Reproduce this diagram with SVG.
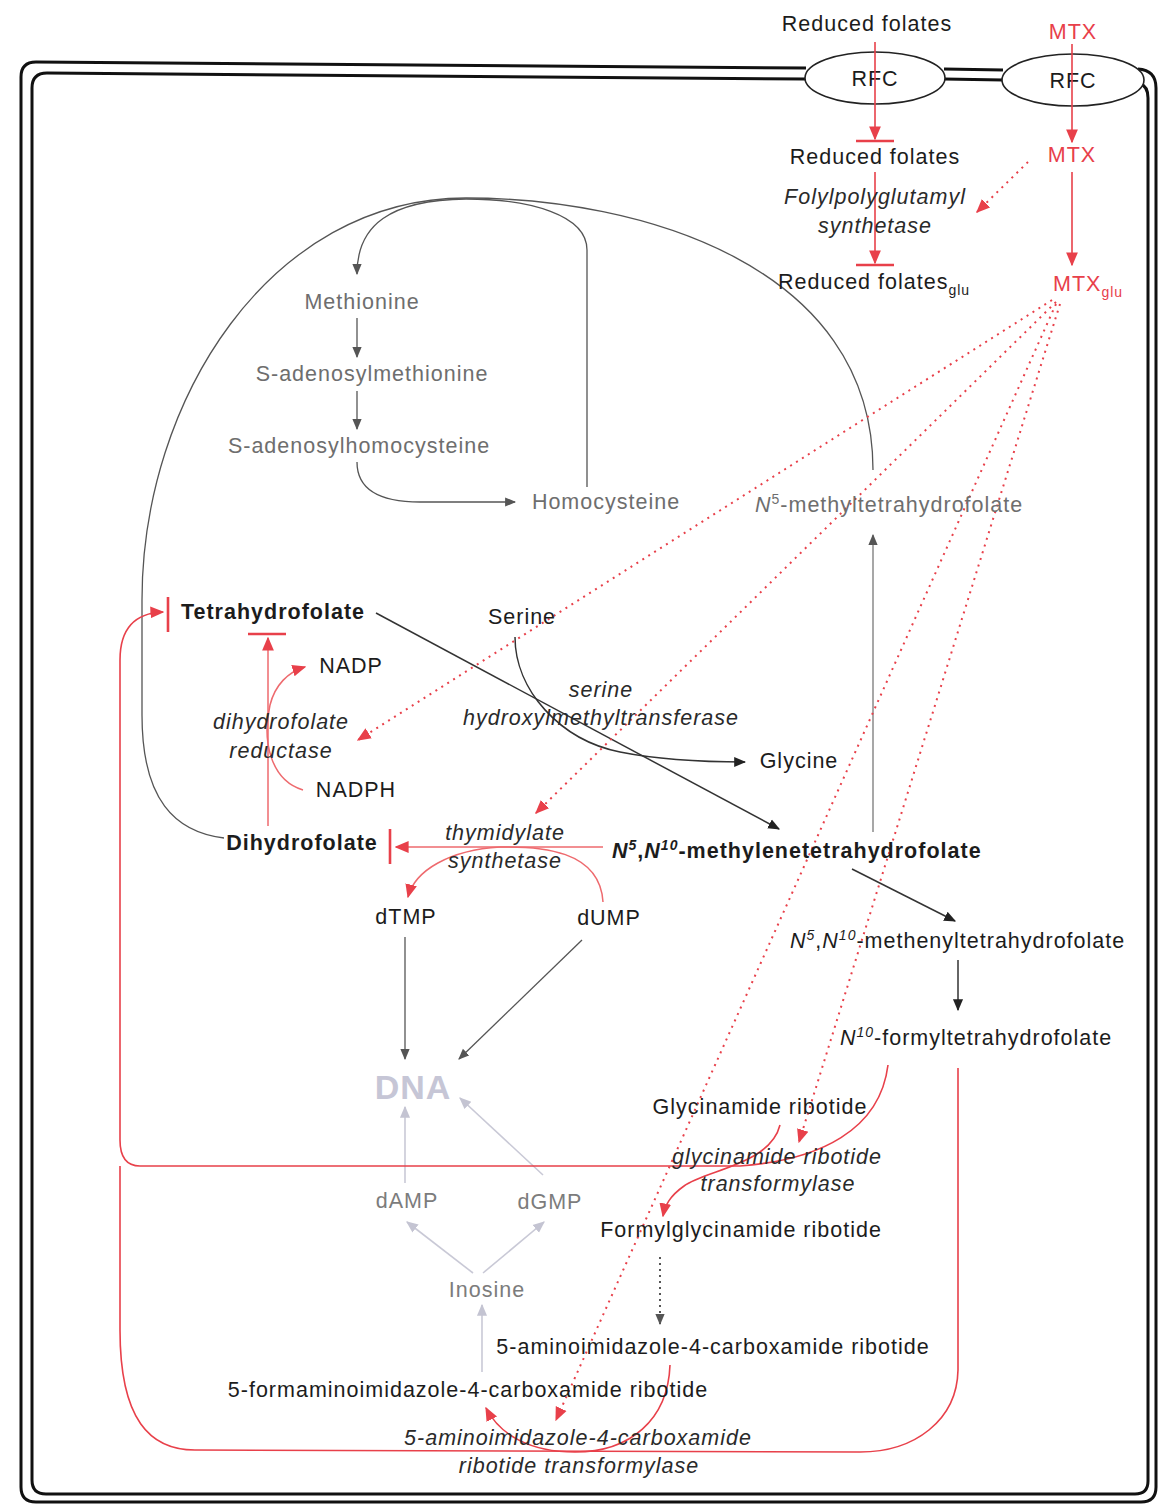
<svg xmlns="http://www.w3.org/2000/svg" width="1161" height="1506" viewBox="0 0 1161 1506">
<style>
text{font-family:"Liberation Sans",Arial,Helvetica,sans-serif;font-size:21.5px;letter-spacing:1px;fill:#1c1c1c}
.b{font-weight:bold}
.i{font-style:italic;fill:#2a2a2a}
.g{fill:#6e6e6e}
.lg{fill:#7c7c7c}
.red{fill:#e8404a}
.dna{font-size:34px;font-weight:bold;fill:#c6c6d6;letter-spacing:1px}
.mem{fill:none;stroke:#111;stroke-width:3}
.k{fill:none;stroke:#333;stroke-width:1.5}
.gr{fill:none;stroke:#555;stroke-width:1.3}
.gl{fill:none;stroke:#8a8a8a;stroke-width:1.5}
.lt{fill:none;stroke:#c9c9d6;stroke-width:1.6}
.r{fill:none;stroke:#e8404a;stroke-width:1.6}
.rp{fill:none;stroke:#ee6a6e;stroke-width:1.5}
.rd{fill:none;stroke:#e8404a;stroke-width:2;stroke-dasharray:2 5}
.bar{fill:none;stroke:#e8404a;stroke-width:2.6}
.dd{fill:none;stroke:#444;stroke-width:1.8;stroke-dasharray:2 4}
</style>
<defs>
<marker id="ak" viewBox="0 0 10 10" refX="9" refY="5" markerWidth="12" markerHeight="12" markerUnits="userSpaceOnUse" orient="auto"><path d="M0,0.8 L10,5 L0,9.2 z" fill="#222"/></marker>
<marker id="ag" viewBox="0 0 10 10" refX="9" refY="5" markerWidth="11" markerHeight="11" markerUnits="userSpaceOnUse" orient="auto"><path d="M0,0.8 L10,5 L0,9.2 z" fill="#555"/></marker>
<marker id="al" viewBox="0 0 10 10" refX="9" refY="5" markerWidth="12" markerHeight="12" markerUnits="userSpaceOnUse" orient="auto"><path d="M0,0.8 L10,5 L0,9.2 z" fill="#c4c4d2"/></marker>
<marker id="ar" viewBox="0 0 10 10" refX="9" refY="5" markerWidth="14" markerHeight="14" markerUnits="userSpaceOnUse" orient="auto"><path d="M0,0.8 L10,5 L0,9.2 z" fill="#e8404a"/></marker>
</defs>
<rect width="1161" height="1506" fill="#ffffff"/>

<g id="membrane">
<path class="mem" d="M806 68 L36 62 Q21 62 21 77 L21 1487 Q21 1502 36 1502 L1141 1502 Q1156 1502 1156 1487 L1156 88 Q1156 70 1138 69"/>
<path class="mem" d="M806 79 L47 73 Q32 73 32 88 L32 1480 Q32 1494 46 1494 L1135 1494 Q1148 1494 1148 1481 L1148 98 Q1148 86 1140 84"/>
<path class="mem" d="M944 69 L1003 70 M944 79 L1003 80"/>
</g>
<g id="rfc1"><ellipse cx="875" cy="78" rx="70" ry="26" fill="#fff" stroke="#222" stroke-width="1.6"/><text x="875" y="86" text-anchor="middle">RFC</text></g>
<g id="rfc2"><ellipse cx="1073" cy="80" rx="71" ry="26" fill="#fff" stroke="#222" stroke-width="1.6"/><text x="1073" y="88" text-anchor="middle">RFC</text></g>

<g id="connectors">
<!-- methionine cycle -->
<path class="gr" d="M224 838 C175 832 142 800 142 715 L142 600 C142 400 270 198 466 198 C640 198 873 265 873 470"/>
<path class="gr" d="M466 199 C390 200 357 225 357 274" marker-end="url(#ag)"/>
<path class="gr" d="M587 487 L587 250 C587 215 530 199 466 199"/>
<path class="gr" d="M357 318 L357 357" marker-end="url(#ag)"/>
<path class="gr" d="M357 391 L357 429" marker-end="url(#ag)"/>
<path class="gr" d="M357 462 C357 490 380 502 420 502 L515 502" marker-end="url(#ag)"/>
<path class="gl" d="M873 832 L873 535" marker-end="url(#ag)"/>
<!-- black arrows -->
<path class="k" d="M376 613 L779 829" marker-end="url(#ak)"/>
<path class="k" d="M515 637 C515 690 560 740 620 752 C660 760 700 762 745 762" marker-end="url(#ak)"/>
<path class="k" d="M852 869 L955 921" marker-end="url(#ak)"/>
<path class="k" d="M958 960 L958 1010" marker-end="url(#ak)"/>
<path class="gr" d="M405 937 L405 1059" marker-end="url(#ag)"/>
<path class="gr" d="M582 940 L459 1059" marker-end="url(#ag)"/>
<!-- light purine / DNA -->
<path class="lt" d="M405 1183 L405 1107" marker-end="url(#al)"/>
<path class="lt" d="M543 1175 L460 1098" marker-end="url(#al)"/>
<path class="lt" d="M473 1273 L407 1222" marker-end="url(#al)"/>
<path class="lt" d="M483 1273 L544 1222" marker-end="url(#al)"/>
<path class="lt" d="M482 1372 L482 1305" marker-end="url(#al)"/>
<path class="dd" d="M660 1257 L660 1324" marker-end="url(#ag)"/>
<!-- red transport / FPGS -->
<path class="r" d="M875 42 L875 139" marker-end="url(#ar)"/>
<path class="bar" d="M856 141 L894 141"/>
<path class="r" d="M875 172 L875 263" marker-end="url(#ar)"/>
<path class="bar" d="M856 265 L894 265"/>
<path class="r" d="M1072 44 L1072 142" marker-end="url(#ar)"/>
<path class="r" d="M1072 172 L1072 265" marker-end="url(#ar)"/>
<path class="rd" d="M1028 162 L977 212" marker-end="url(#ar)"/>
<!-- MTXglu inhibitions -->
<path class="rd" d="M1052 300 L358 740" marker-end="url(#ar)"/>
<path class="rd" d="M1056 302 L536 813" marker-end="url(#ar)"/>
<path class="rd" d="M1060 304 L799 1142" marker-end="url(#ar)"/>
<path class="rd" d="M1056 304 L556 1420" marker-end="url(#ar)"/>
<!-- DHFR -->
<path class="rp" d="M268 826 L268 638" marker-end="url(#ar)"/>
<path class="bar" d="M248 634 L286 634"/>
<path class="rp" d="M303 790 C270 780 262 740 270 705 C275 685 288 672 305 667" marker-end="url(#ar)"/>
<!-- TS -->
<path class="rp" d="M603 847 L396 847" marker-end="url(#ar)"/>
<path class="bar" d="M390 829 L390 864"/>
<path class="rp" d="M603 902 C600 850 540 846 500 847 C450 850 415 870 408 897" marker-end="url(#ar)"/>
<!-- THF regeneration loops -->
<path class="r" d="M888 1065 C880 1130 820 1160 740 1166 L140 1166 C126 1166 120 1156 120 1140 L120 660 C120 628 135 613 163 612" marker-end="url(#ar)"/>
<path class="bar" d="M168 597 L168 632"/>
<path class="r" d="M780 1125 C770 1165 705 1170 684 1186 C670 1196 665 1205 663 1216" marker-end="url(#ar)"/>
<path class="r" d="M958 1068 L958 1370 C957 1420 915 1452 860 1452 L195 1450 C150 1450 120 1420 120 1330 L120 1166"/>
<path class="r" d="M670 1365 C668 1420 630 1452 575 1452 C530 1452 500 1435 486 1408" marker-end="url(#ar)"/>
</g>

<g id="n-reduced-folates-out"><text x="867" y="31" text-anchor="middle">Reduced folates</text></g>
<g id="n-mtx-out"><text x="1073" y="39" text-anchor="middle" class="red">MTX</text></g>
<g id="n-reduced-folates-in"><text x="875" y="164" text-anchor="middle">Reduced folates</text></g>
<g id="n-mtx-in"><text x="1072" y="162" text-anchor="middle" class="red">MTX</text></g>
<g id="e-fpgs"><text x="875" y="204" text-anchor="middle" class="i">Folylpolyglutamyl</text><text x="875" y="233" text-anchor="middle" class="i">synthetase</text></g>
<g id="n-reduced-folates-glu"><text x="778" y="289">Reduced folates<tspan font-size="14" dy="6">glu</tspan></text></g>
<g id="n-mtx-glu"><text x="1053" y="291" class="red">MTX<tspan font-size="14" dy="6">glu</tspan></text></g>

<g id="n-methionine"><text x="362" y="309" text-anchor="middle" class="g">Methionine</text></g>
<g id="n-sam"><text x="372" y="381" text-anchor="middle" class="g">S-adenosylmethionine</text></g>
<g id="n-sah"><text x="359" y="453" text-anchor="middle" class="g">S-adenosylhomocysteine</text></g>
<g id="n-homocysteine"><text x="606" y="509" text-anchor="middle" class="g">Homocysteine</text></g>
<g id="n-n5-methylthf"><text x="755" y="512" class="g"><tspan font-style="italic">N</tspan><tspan font-size="14" dy="-8">5</tspan><tspan dy="8">-methyltetrahydrofolate</tspan></text></g>

<g id="n-thf"><text x="273" y="619" text-anchor="middle" class="b">Tetrahydrofolate</text></g>
<g id="n-serine"><text x="522" y="624" text-anchor="middle">Serine</text></g>
<g id="n-nadp"><text x="351" y="673" text-anchor="middle">NADP</text></g>
<g id="e-shmt"><text x="601" y="697" text-anchor="middle" class="i">serine</text><text x="601" y="725" text-anchor="middle" class="i">hydroxylmethyltransferase</text></g>
<g id="e-dhfr"><text x="281" y="729" text-anchor="middle" class="i">dihydrofolate</text><text x="281" y="758" text-anchor="middle" class="i">reductase</text></g>
<g id="n-glycine"><text x="799" y="768" text-anchor="middle">Glycine</text></g>
<g id="n-nadph"><text x="356" y="797" text-anchor="middle">NADPH</text></g>
<g id="e-ts"><text x="505" y="840" text-anchor="middle" class="i">thymidylate</text><text x="505" y="868" text-anchor="middle" class="i">synthetase</text></g>
<g id="n-dhf"><text x="302" y="850" text-anchor="middle" class="b">Dihydrofolate</text></g>
<g id="n-methylene-thf"><text x="612" y="858" class="b"><tspan font-style="italic">N</tspan><tspan font-style="italic" font-size="14" dy="-8">5</tspan><tspan dy="8">,</tspan><tspan font-style="italic">N</tspan><tspan font-style="italic" font-size="14" dy="-8">10</tspan><tspan dy="8">-methylenetetrahydrofolate</tspan></text></g>
<g id="n-dtmp"><text x="406" y="924" text-anchor="middle">dTMP</text></g>
<g id="n-dump"><text x="609" y="925" text-anchor="middle">dUMP</text></g>
<g id="n-methenyl-thf"><text x="790" y="948"><tspan font-style="italic">N</tspan><tspan font-style="italic" font-size="14" dy="-8">5</tspan><tspan dy="8">,</tspan><tspan font-style="italic">N</tspan><tspan font-style="italic" font-size="14" dy="-8">10</tspan><tspan dy="8">-methenyltetrahydrofolate</tspan></text></g>
<g id="n-formyl-thf"><text x="840" y="1045"><tspan font-style="italic">N</tspan><tspan font-style="italic" font-size="14" dy="-8">10</tspan><tspan dy="8">-formyltetrahydrofolate</tspan></text></g>
<g id="n-dna"><text x="413" y="1099" text-anchor="middle" class="dna">DNA</text></g>
<g id="n-gar"><text x="760" y="1114" text-anchor="middle">Glycinamide ribotide</text></g>
<g id="e-gart"><text x="777" y="1164" text-anchor="middle" class="i">glycinamide ribotide</text><text x="778" y="1191" text-anchor="middle" class="i">transformylase</text></g>
<g id="n-damp"><text x="407" y="1208" text-anchor="middle" class="lg">dAMP</text></g>
<g id="n-dgmp"><text x="550" y="1209" text-anchor="middle" class="lg">dGMP</text></g>
<g id="n-fgar"><text x="741" y="1237" text-anchor="middle">Formylglycinamide ribotide</text></g>
<g id="n-inosine"><text x="487" y="1297" text-anchor="middle" class="lg">Inosine</text></g>
<g id="n-aicar"><text x="713" y="1354" text-anchor="middle">5-aminoimidazole-4-carboxamide ribotide</text></g>
<g id="n-faicar"><text x="468" y="1397" text-anchor="middle">5-formaminoimidazole-4-carboxamide ribotide</text></g>
<g id="e-aicart"><text x="578" y="1445" text-anchor="middle" class="i">5-aminoimidazole-4-carboxamide</text><text x="579" y="1473" text-anchor="middle" class="i">ribotide transformylase</text></g>
</svg>
